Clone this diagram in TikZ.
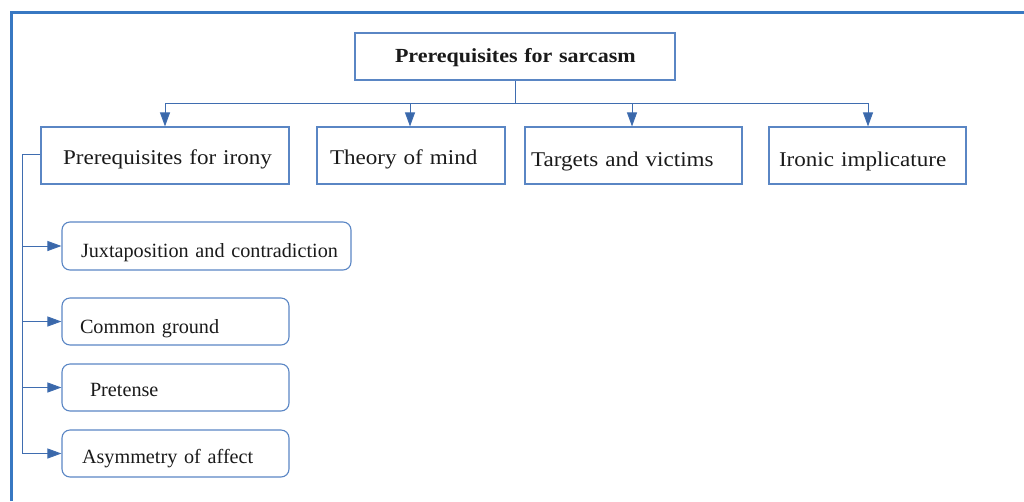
\documentclass[tikz,border=0pt]{standalone}
\usepackage{fontspec}
\setmainfont[FakeStretch=1.1]{Liberation Serif}
\newfontfamily\subfont[FakeStretch=1.0]{Liberation Serif}
\usetikzlibrary{arrows.meta}

\definecolor{framecol}{HTML}{3878C2}
\definecolor{boxcol}{HTML}{5A86C4}
\definecolor{linkcol}{HTML}{3F6DB0}
\definecolor{tipcol}{HTML}{3A68AA}
\definecolor{inkcol}{HTML}{1A1A1A}

\tikzset{
  frameline/.style={draw=framecol, line width=3pt},
  basebox/.style={draw=boxcol, line width=1.1pt, inner xsep=0pt, inner ysep=0pt,
    align=left, text=inkcol, text depth=0pt},
  sqbox/.style={basebox, font=\fontsize{21}{24}\selectfont},
  rbox/.style={basebox, rounded corners=8pt, font=\subfont\fontsize{20.2}{24}\selectfont},
  padl/.style={execute at begin node={\hspace*{#1pt}}},
  link/.style={draw=linkcol, line width=1pt},
  arr/.style={link, -{Triangle[length=14pt, width=10pt, fill=tipcol]}},
}

\begin{document}
\begin{tikzpicture}[x=1pt, y=-1pt]
\useasboundingbox (0,0) rectangle (1024,501);

% outer frame (top and left edges)
\draw[frameline] (11,501) -- (11,12.5) -- (1025,12.5);

% top node
\node[sqbox, minimum width=320pt, text width=320pt, minimum height=47pt,
      text height=12pt, padl=40, font=\fontsize{20}{24}\selectfont\bfseries]
  (top) at (515,56.5) {\mbox{Prerequisites for sarcasm}};

% first row
\node[sqbox, minimum width=248pt, text width=248pt, minimum height=57pt,
      text height=17pt, padl=22] (irony) at (165,155.5) {\mbox{Prerequisites for irony}};
\node[sqbox, minimum width=188pt, text width=188pt, minimum height=57pt,
      text height=17pt, padl=13] (mind) at (411,155.5) {\mbox{Theory of mind}};
\node[sqbox, minimum width=217pt, text width=217pt, minimum height=57pt,
      text height=21pt, padl=6] (targets) at (633.5,155.5) {\mbox{Targets and victims}};
\node[sqbox, minimum width=197pt, text width=197pt, minimum height=57pt,
      text height=21pt, padl=10] (implic) at (867.5,155.5) {\mbox{Ironic implicature}};

% sub-items of irony
\node[rbox, minimum width=289pt, text width=289pt, minimum height=48pt,
      text height=23.4pt, padl=19] (juxta) at (206.5,246) {\mbox{Juxtaposition and contradiction}};
\node[rbox, minimum width=227pt, text width=227pt, minimum height=47pt,
      text height=23.6pt, padl=18] (common) at (175.5,321.5) {\mbox{Common ground}};
\node[rbox, minimum width=227pt, text width=227pt, minimum height=47pt,
      text height=18.4pt, padl=28] (pretense) at (175.5,387.5) {\mbox{Pretense}};
\node[rbox, minimum width=227pt, text width=227pt, minimum height=47pt,
      text height=19pt, padl=20] (asym) at (175.5,453.5) {\mbox{Asymmetry of affect}};

% top-level links
\draw[link] (top.south) -- ++(0,23) coordinate (hub);
\draw[arr] (hub) -| (irony.north);
\draw[arr] (hub) -| ([xshift=-1pt]mind.north);
\draw[arr] (hub) -| ([xshift=-1.5pt]targets.north);
\draw[arr] (hub) -| ([xshift=0.5pt]implic.north);

% links from irony to its sub-items
\draw[link] ([yshift=1.5pt]irony.west) -- ++(-18,0) coordinate (spine);
\draw[arr] (spine) |- (juxta.west);
\draw[arr] (spine) |- (common.west);
\draw[arr] (spine) |- (pretense.west);
\draw[arr] (spine) |- (asym.west);
\end{tikzpicture}
\end{document}
